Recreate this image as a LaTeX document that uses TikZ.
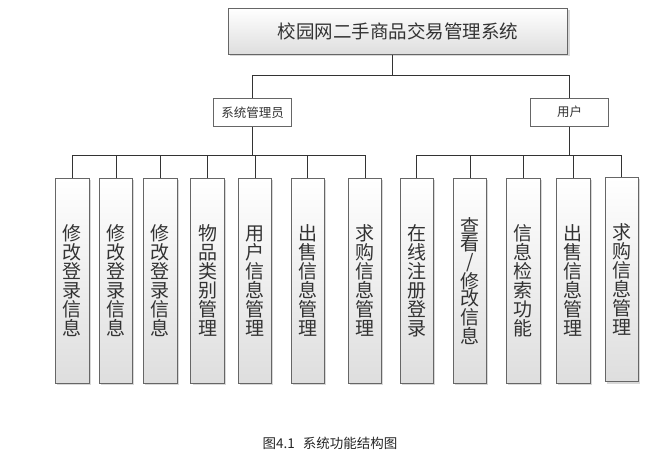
\documentclass[tikz,border=0pt]{standalone}
\usepackage{fontspec}
\setmainfont{Noto Sans CJK SC}
\usetikzlibrary{shadows}
\begin{document}
\begin{tikzpicture}[x=1pt,y=-1pt,
  boxbase/.style={draw=black!60, line width=0.9pt, inner sep=0pt, text=black!80},
  shadedbox/.style={boxbase, top color=white, bottom color=black!13,
    drop shadow={shadow xshift=1.8pt, shadow yshift=-1.8pt, opacity=0.25, fill=black!60}},
  leaf/.style={shadedbox, minimum width=33.3pt, minimum height=205pt, align=center,
    font=\fontsize{19}{19}\selectfont},
  role/.style={boxbase, fill=white, minimum width=77.5pt, minimum height=28pt,
    font=\fontsize{12.5}{14}\selectfont},
  conn/.style={draw=black!80, line width=0.9pt}
]
\useasboundingbox (0,0) rectangle (672,469);
\fill[white] (0,0) rectangle (672,469);

\node[shadedbox, minimum width=339.4pt, minimum height=46pt,
  font=\fontsize{18.5}{20}\selectfont] (root) at (398,31.3) {校园网二手商品交易管理系统};

\node[role] (admin) at (252.5,112.5) {系统管理员};
\node[role] (user) at (569.5,112.2) {用户};

\coordinate (tj) at (392,75.3);
\draw[conn] (root.south -| tj) -- (tj);
\draw[conn] (admin.north) |- (tj) -| (user.north);

% admin leaves
\node[leaf] (a1) at (72.3,280.8) {修\\改\\登\\录\\信\\息};
\node[leaf] (a2) at (116,280.8) {修\\改\\登\\录\\信\\息};
\node[leaf] (a3) at (160.3,280.8) {修\\改\\登\\录\\信\\息};
\node[leaf] (a4) at (207.5,280.8) {物\\品\\类\\别\\管\\理};
\node[leaf] (a5) at (255,280.8) {用\\户\\信\\息\\管\\理};
\node[leaf] (a6) at (307.7,280.8) {出\\售\\信\\息\\管\\理};
\node[leaf] (a7) at (365,280.8) {求\\购\\信\\息\\管\\理};

\coordinate (ab) at (252.5,155.7);
\draw[conn] (admin.south) -- (ab);
\foreach \n in {a1,a2,a3,a4,a5,a6,a7}{\draw[conn] (\n.north) |- (ab);}

% user leaves
\node[leaf] (b1) at (416.7,280.8) {在\\线\\注\\册\\登\\录};
\node[leaf, font=\fontsize{19}{17.5}\selectfont] (b2) at (470,280.8) {查\\看\\/\\修\\改\\信\\息};
\node[leaf] (b3) at (523.3,280.8) {信\\息\\检\\索\\功\\能};
\node[leaf] (b4) at (573.3,280.8) {出\\售\\信\\息\\管\\理};
\node[leaf, minimum height=204.4pt] (b5) at (621.7,279.5) {求\\购\\信\\息\\管\\理};

\coordinate (ub) at (569.5,155.7);
\draw[conn] (user.south) -- (ub);
\foreach \n in {b1,b2,b3,b4,b5}{\draw[conn] (\n.north) |- (ub);}

\node[font=\fontsize{13.5}{15}\selectfont, text=black!85] (cap) at (330,443)
  {图4.1\hspace{0.6em}系统功能结构图};
\end{tikzpicture}
\end{document}
